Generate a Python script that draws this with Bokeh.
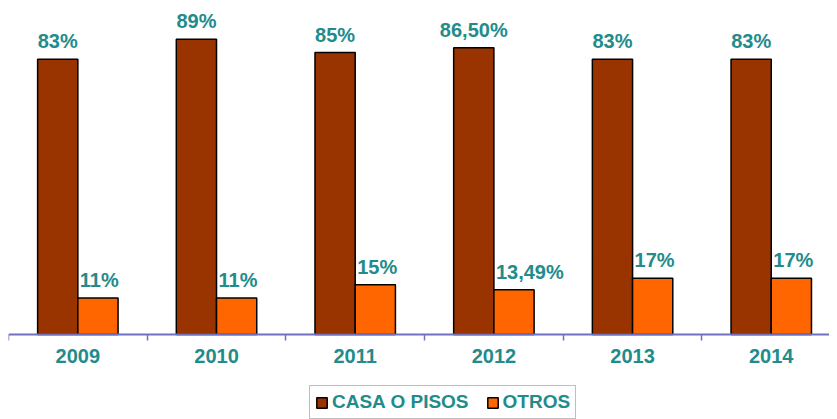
import numpy as np
from bokeh.plotting import figure
from bokeh.models import (ColumnDataSource, Range1d, FixedTicker, Legend, LegendItem, LinearAxis)
from bokeh.core.properties import value
from bokeh.embed import file_html
from bokeh.resources import INLINE

# ---- data ----
years = ["2009", "2010", "2011", "2012", "2013", "2014"]
casa = [83, 89, 85, 86.5, 83, 83]
otros = [11, 11, 15, 13.49, 17, 17]
casa_labels = ["83%", "89%", "85%", "86,50%", "83%", "83%"]
otros_labels = ["11%", "11%", "15%", "13,49%", "17%", "17%"]

# ---- styles ----
CASA_COLOR = "#993300"
OTROS_COLOR = "#FF6600"
TEAL = "#228B8B"
AXIS_COLOR = "#7070C0"
FONT = "Liberation Sans"
BAR_W = 0.29

centers = np.arange(len(years)) + 0.5
src = ColumnDataSource(dict(
    x_casa=centers - BAR_W / 2,
    x_otros=centers + BAR_W / 2,
    x_otros_left=centers,
    casa=casa, otros=otros,
    casa_lab=casa_labels, otros_lab=otros_labels,
))

p = figure(frame_width=821, frame_height=411, output_backend="svg", toolbar_location=None,
           x_range=Range1d(0, 5.92), y_range=Range1d(-25.6, 98.3),
           x_axis_location=None, y_axis_location=None,
           min_border_left=8, min_border_right=0, min_border_top=8, min_border_bottom=0)
p.outline_line_color = None
p.xgrid.visible = False
p.ygrid.visible = False

r1 = p.vbar(x="x_casa", top="casa", width=BAR_W, source=src,
            fill_color=CASA_COLOR, line_color="black", line_width=1.5)
r2 = p.vbar(x="x_otros", top="otros", width=BAR_W, source=src,
            fill_color=OTROS_COLOR, line_color="black", line_width=1.5)

p.text(x="x_casa", y="casa", text="casa_lab", source=src, text_align="center",
       text_baseline="alphabetic", y_offset=-18, text_color=TEAL,
       text_font=value(FONT), text_font_style="bold", text_font_size="20px")
p.text(x="x_otros_left", y="otros", text="otros_lab", source=src, text_align="left",
       text_baseline="alphabetic", x_offset=2, y_offset=-18, text_color=TEAL,
       text_font=value(FONT), text_font_style="bold", text_font_size="20px")

ax = LinearAxis(fixed_location=0)
ax.ticker = FixedTicker(ticks=list(centers), minor_ticks=list(np.arange(len(years) + 1)))
ax.major_label_overrides = {float(c): y for c, y in zip(centers, years)}
ax.major_tick_out = 0
ax.major_tick_in = 0
ax.minor_tick_out = 6
ax.minor_tick_in = 0
ax.minor_tick_line_color = AXIS_COLOR
ax.minor_tick_line_width = 1.5
ax.axis_line_color = AXIS_COLOR
ax.axis_line_width = 2
ax.major_label_standoff = 8
ax.major_label_text_color = TEAL
ax.major_label_text_font = FONT
ax.major_label_text_font_style = "bold"
ax.major_label_text_font_size = "20px"
p.add_layout(ax, "below")

legend = Legend(items=[LegendItem(label="CASA O PISOS", renderers=[r1]),
                       LegendItem(label="OTROS", renderers=[r2])],
                orientation="horizontal", location=(301, 0))
legend.glyph_width = 13
legend.glyph_height = 13
legend.label_standoff = 4
legend.spacing = 17
legend.padding = 5
legend.margin = 0
legend.label_text_color = TEAL
legend.label_text_font = FONT
legend.label_text_font_style = "bold"
legend.label_text_font_size = "19px"
legend.border_line_color = "#808080"
legend.border_line_width = 1.5
legend.background_fill_color = "white"
p.add_layout(legend, "center")

open("out.html", "w").write(file_html(p, INLINE))
